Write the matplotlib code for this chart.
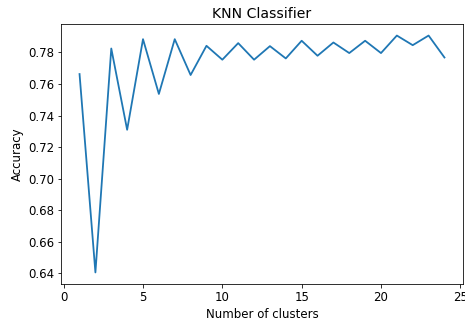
import numpy as np
import matplotlib.pyplot as plt

# valeurs
clusters = list(range(1, 25))
accuracy = [0.7663, 0.6406, 0.7825, 0.7310, 0.7884, 0.7537, 0.7884, 0.7657,
            0.7842, 0.7754, 0.7859, 0.7754, 0.7840, 0.7762, 0.7874, 0.7779,
            0.7863, 0.7796, 0.7874, 0.7796, 0.7907, 0.7846, 0.7907, 0.7768]

plt.rcParams["font.size"] = 11.8
fig = plt.figure(figsize=(465 / 72, 328 / 72), dpi=72)
ax = fig.add_axes([61.3 / 465, 1 - 284.3 / 328, (462.7 - 61.3) / 465, (284.3 - 23.7) / 328])
ax.plot(clusters, accuracy, color="#1f77b4", linewidth=1.8)
ax.set_title("KNN Classifier", fontsize=14)
ax.set_xlabel("Number of clusters")
ax.set_ylabel("Accuracy")
ax.set_xticks([0, 5, 10, 15, 20, 25])
ax.set_yticks(np.arange(0.64, 0.781, 0.02))
fig.savefig("out.png", dpi=72)
